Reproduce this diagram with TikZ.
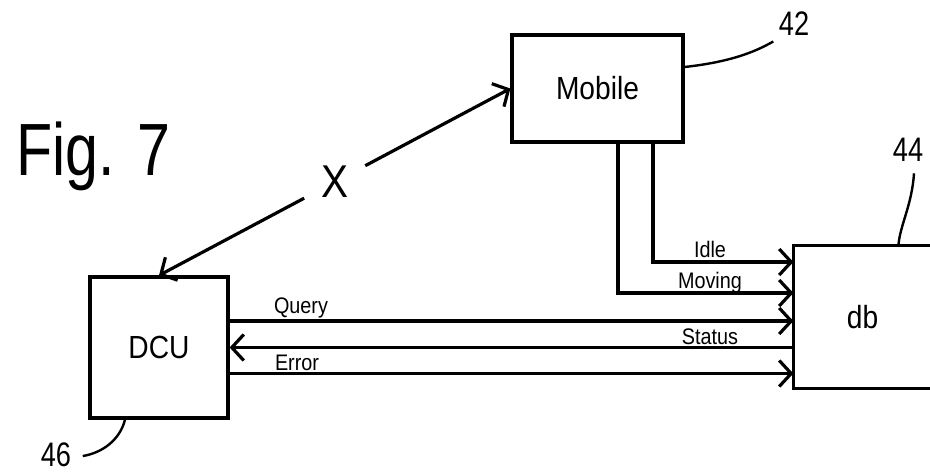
\documentclass[tikz,border=0pt]{standalone}
\usepackage{fontspec}
\setmainfont{Liberation Sans}
\newfontfamily\nf[FakeStretch=0.8]{Liberation Sans}
\newfontfamily\nfm[FakeStretch=0.88]{Liberation Sans}
\usetikzlibrary{arrows.meta,calc}
\begin{document}
\begin{tikzpicture}[x=1pt,y=-1pt,
  line width=3.2pt,
  box/.style={draw, rectangle, inner sep=0pt, line width=3.2pt},
  arr/.style={-{Straight Barb[length=12pt,width=26pt]}},
  lbl/.style={inner sep=0pt, anchor=base, font=\nfm\fontsize{22.5}{24}\selectfont},
  big/.style={font=\nfm\fontsize{32}{36}\selectfont},
  num/.style={inner sep=0pt, font=\nf\fontsize{34}{38}\selectfont},
  lead/.style={line width=2.4pt}]
\useasboundingbox (0,0) rectangle (930,475);
\node[box, minimum width=171pt, minimum height=107pt, big] (mobile) at (597.5,88.5) {Mobile};
\node[box, minimum width=138pt, minimum height=141pt, big] (dcu) at (159,347.5) {DCU};
\node[rectangle, inner sep=0pt, minimum width=135pt, minimum height=140pt, big] (db) at (862.5,317) {db};
\draw (db.north east) -- (db.north west) -- (db.south west) -- (db.south east);
\node[inner sep=0pt, anchor=base west, font=\nf\fontsize{74}{80}\selectfont] (fig) at (15,175) {Fig. 7};
\node[circle, inner sep=0pt, minimum size=66pt, font=\nfm\fontsize{46}{50}\selectfont] (x) at ($(dcu.north)!0.5!(mobile.west)$) {X};
\draw[arr] (x) -- (dcu.north);
\draw[arr] (x) -- (mobile.west);
\coordinate (m1) at ([xshift=55.5pt]mobile.south);
\coordinate (m2) at ([xshift=20.5pt]mobile.south);
\coordinate (d1) at ([yshift=55pt]db.west);
\coordinate (d2) at ([yshift=24pt]db.west);
\draw[arr] (m1) |- (d1);
\draw[arr] (m2) |- (d2);
\coordinate (q1) at ([yshift=26.5pt]dcu.east);
\coordinate (e1) at ([yshift=-26pt]dcu.east);
\draw[arr] (q1) -- (q1 -| db.west);
\draw[arr] (dcu.east -| db.west) -- (dcu.east);
\draw[arr] (e1) -- (e1 -| db.west);
\node[lbl] (idle) at (710,257) {Idle};
\node[lbl] (moving) at (710,288) {Moving};
\node[lbl] (query) at (301,313) {Query};
\node[lbl] (status) at (710,344) {Status};
\node[lbl] (error) at (297,370) {Error};
\node[num] (n42) at (794,24) {42};
\node[num] (n44) at (908,150) {44};
\node[num] (n46) at (56,455) {46};
\draw[lead] ([yshift=21.5pt]mobile.east) .. controls (730,62) and (755,52) .. ([xshift=-4pt,yshift=-4pt]n42.south west);
\draw[lead] ([xshift=6pt,yshift=-10pt]n44.south) .. controls (912,205) and (900,225) .. ([xshift=105pt]db.north west);
\draw[lead] ([xshift=10pt,yshift=-1pt]n46.east) .. controls (102,453) and (120,440) .. ([xshift=-34pt]dcu.south);
\end{tikzpicture}
\end{document}
